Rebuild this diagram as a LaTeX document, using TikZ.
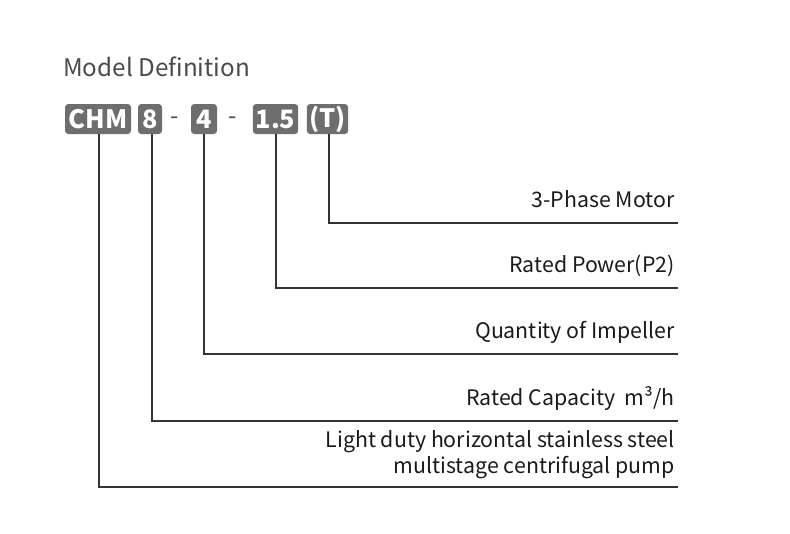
\documentclass[tikz,border=0pt]{standalone}
\usepackage{fontspec}
\setmainfont{Noto Sans CJK SC}
\usetikzlibrary{positioning,calc}
\definecolor{tagfill}{HTML}{6E6E6E}
\definecolor{linegray}{HTML}{333333}
\definecolor{titlegray}{HTML}{4A4A4A}
\definecolor{labelgray}{HTML}{1A1A1A}

\begin{document}
\begin{tikzpicture}[x=0.75pt, y=-0.75pt,
  tag/.style   = {fill=tagfill, text=white, rounded corners=2.5pt, inner sep=0pt,
                  minimum height=22.5pt, font=\bfseries\fontsize{19}{21}\selectfont},
  sep/.style   = {text=titlegray, font=\fontsize{18}{20}\selectfont},
  lbl/.style   = {anchor=base east, inner sep=0pt, align=right, text=labelgray,
                  font=\fontsize{16}{19.5}\selectfont},
  lead/.style  = {linegray, line width=1.1pt}]

\useasboundingbox (0,0) rectangle (790,533);

% title
\node[anchor=west, inner sep=0pt, text=titlegray, font=\fontsize{18.2}{20}\selectfont]
  (title) at (63,67) {Model Definition};

% model code row (y = 119)
\node[tag, minimum width=49.5pt] (chm) at (98,119)    {CHM};
\node[tag, minimum width=18pt]   (cap) at (150,119)   {8};
\node[sep]                       (d1)  at (175,121)   {-};
\node[tag, minimum width=19.5pt] (imp) at (204,119)   {4};
\node[sep]                       (d2)  at (233,121)   {-};
\node[tag, minimum width=34pt]   (pow) at (275.5,119) {1.5};
\node[tag, minimum width=31pt]   (mot) at (327.5,119) {(T)};

% leaders: one drop from each code, out to the right edge
\foreach \n/\x/\y in {mot/329/223, pow/276/288, imp/204/354, cap/152/421, chm/99/487}
{
  \coordinate (\n-k) at (\x,\y);
  \coordinate (\n-e) at (678,\y);
  \draw[lead] (\n.south -| \n-k) -- (\n-k) -- (\n-e);
}

% descriptions, right aligned above each leader
\node[lbl] at ($(mot-e)+(-3,-16)$) {3-Phase Motor};
\node[lbl] at ($(pow-e)+(-3,-16)$) {Rated Power(P2)};
\node[lbl] at ($(imp-e)+(-3,-16)$) {Quantity of Impeller};
\node[lbl] at ($(cap-e)+(-3,-16)$) {Rated Capacity\ \ m³/h};
\node[lbl, anchor=south east] at ($(chm-e)+(-3,-8)$)
  {Light duty horizontal stainless steel\\multistage centrifugal pump};

\end{tikzpicture}
\end{document}
